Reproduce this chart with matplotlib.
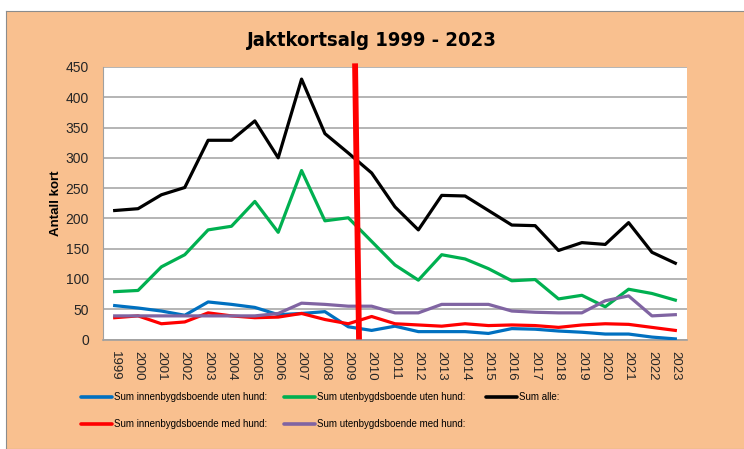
import matplotlib
matplotlib.use('Agg')
import matplotlib.pyplot as plt
from matplotlib.lines import Line2D

plt.rcParams['font.family'] = ['Liberation Sans', 'DejaVu Sans']

years = list(range(1999, 2024))

# values
inn_uten = [56, 52, 47, 40, 62, 58, 53, 41, 43, 46, 21, 15, 22, 13, 13, 13,
            10, 18, 17, 14, 12, 9, 9, 4, 1]
ut_uten = [79, 81, 120, 140, 181, 187, 228, 177, 279, 196, 201, 162, 123, 98,
           140, 133, 117, 97, 99, 67, 73, 54, 83, 76, 65]
alle = [213, 216, 239, 251, 329, 329, 361, 300, 430, 340, 308, 275, 219, 181,
        238, 237, 213, 189, 188, 147, 160, 157, 193, 144, 126]
inn_med = [36, 39, 26, 29, 44, 39, 36, 37, 43, 33, 26, 38, 26, 24, 22, 26,
           23, 24, 23, 20, 24, 26, 25, 20, 15]
ut_med = [39, 39, 39, 39, 39, 39, 39, 43, 60, 58, 55, 55, 44, 44, 58, 58,
          58, 47, 45, 44, 44, 64, 72, 39, 41]

labels = ['Sum innenbygdsboende uten hund:', 'Sum utenbygdsboende uten hund:',
          'Sum alle:', 'Sum innenbygdsboende med hund:',
          'Sum utenbygdsboende med hund:']
colors = ['#0070C0', '#00B050', '#000000', '#FF0000', '#8064A2']
series = [inn_uten, ut_uten, alle, inn_med, ut_med]

fig = plt.figure(figsize=(7.44, 4.49), dpi=100)
fig.patch.set_facecolor('white')

# orange chart panel as a background axes
bg = fig.add_axes([6 / 744, 0, 1, 1 - 11 / 449], zorder=-5)
bg.set_facecolor('#F9C08F')
bg.set_xticks([])
bg.set_yticks([])
for sp in bg.spines.values():
    sp.set_color('#8C8C8C')

ax = fig.add_axes([103 / 744, 1 - 339.5 / 449, 584 / 744, 272.5 / 449],
                  zorder=1)
ax.set_facecolor('white')

x = list(range(len(years)))
for s, c in zip(series, colors):
    ax.plot(x, s, color=c, linewidth=2.3, zorder=3)

# red marker line between 2009 and 2010
ax.plot([10.29, 10.46], [456, 0], color='#FF0000', linewidth=4.2,
        clip_on=False, zorder=4, solid_capstyle='butt')

ax.set_xlim(-0.5, len(years) - 0.5)
ax.set_ylim(0, 450)
ax.set_yticks(range(0, 451, 50))
ax.set_xticks(x)
ax.set_xticklabels([str(y) for y in years], rotation=270, fontsize=9.5)
ax.tick_params(axis='x', length=0, pad=8, labelcolor='#262626')
ax.tick_params(axis='y', length=0, pad=10, labelsize=10, labelcolor='#262626')
ax.grid(axis='y', color='#A0A0A0', linewidth=1.1, zorder=1)
ax.set_axisbelow(True)
for side in ['top', 'right']:
    ax.spines[side].set_visible(False)
ax.spines['left'].set_color('#A0A0A0')
ax.spines['bottom'].set_color('#A0A0A0')
ax.spines['bottom'].set_linewidth(1.2)

fig.text(56 / 744, 1 - 203 / 449, 'Antall kort', rotation=90, fontsize=9.5,
         fontweight='bold', ha='center', va='center')

fig.text(372 / 744, 1 - 40 / 449, 'Jaktkortsalg 1999 - 2023', fontsize=14.5,
         fontweight='bold', ha='center', va='center',
         family='DejaVu Sans', fontstretch='condensed')

# legend, laid out like the Excel one
col_x = [81, 284, 486]
row_y = [397, 424]
for i, (lab, c) in enumerate(zip(labels, colors)):
    cx = col_x[i % 3]
    cy = row_y[i // 3]
    fig.add_artist(Line2D([cx / 744, (cx + 31) / 744],
                          [1 - cy / 449, 1 - cy / 449], color=c,
                          linewidth=2.6, solid_capstyle='round',
                          transform=fig.transFigure))
    fig.text((cx + 33) / 744, 1 - cy / 449, lab, fontsize=7,
             ha='left', va='center')

fig.savefig('out.png', dpi=100)
